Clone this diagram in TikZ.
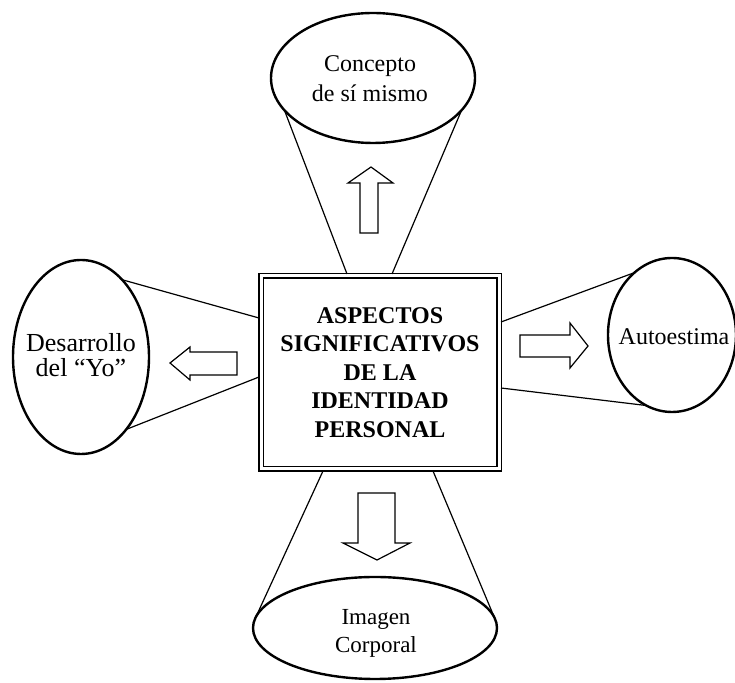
\documentclass[tikz,border=0pt]{standalone}
\usepackage{fontspec}
\setmainfont{Liberation Serif}
\usetikzlibrary{shapes.geometric}
\begin{document}
\begin{tikzpicture}[x=0.5pt, y=-0.5pt,
		oval/.style={draw, ellipse, line width=1.2pt, inner sep=0pt, outer sep=0pt},
		ovaltext/.style={align=center, inner sep=0pt},
		cone/.style={line width=0.6pt},
		hollow/.style={line width=0.6pt, line join=miter}]
	\useasboundingbox (0,0) rectangle (735,683);
	
	\node[draw, double, double distance=1.5pt, line width=0.8pt, minimum width=119pt, minimum height=96.5pt, align=center, font=\bfseries\fontsize{12}{14.25}\selectfont] (box) at (380,372.5) {ASPECTOS\\SIGNIFICATIVOS\\DE LA\\IDENTIDAD\\PERSONAL};
	
	\node[oval, minimum width=102pt, minimum height=65pt] (concepto) at (373,78) {};
	\node[oval, minimum width=68pt, minimum height=97pt] (yo) at (81,357) {};
	\node[oval, minimum width=64pt, minimum height=77pt] (auto) at (672,335) {};
	\node[oval, minimum width=122pt, minimum height=51pt] (imagen) at (375,628) {};
	
	\node[ovaltext, font=\fontsize{12}{15}\selectfont] (conceptoText) at (370,79) {Concepto\\de sí mismo};
	\node[ovaltext, font=\fontsize{13}{12.5}\selectfont] (yoText) at (81,355) {Desarrollo\\del ``Yo''};
	\node[ovaltext, font=\fontsize{12}{14}\selectfont] (autoText) at (674,337) {Autoestima};
	\node[ovaltext, font=\fontsize{11.5}{14}\selectfont] (imagenText) at (376,633) {Imagen\\Corporal};
	
	\coordinate (boxN1) at (347,274);
	\coordinate (boxN2) at (392,274);
	\coordinate (boxS1) at (323,471);
	\coordinate (boxS2) at (433,471);
	\coordinate (boxW1) at (259,318);
	\coordinate (boxW2) at (259,377);
	\coordinate (boxE1) at (501,322);
	\coordinate (boxE2) at (501,388);
	
	\draw[cone] (boxN1) -- (concepto.200);
	\draw[cone] (boxN2) -- (concepto.340);
	\draw[cone] (boxW1) -- (yo.62);
	\draw[cone] (boxW2) -- (yo.-58);
	\draw[cone] (boxE1) -- (auto.121);
	\draw[cone] (boxE2) -- (auto.250);
	\draw[cone] (boxS1) -- (imagen.176);
	\draw[cone] (boxS2) -- (imagen.5);
	
	% hollow arrows
	\draw[hollow] (360,233) -- (360,183) -- (348,183) -- (371,167) -- (393,183) -- (378,183) -- (378,233) -- cycle;
	\draw[hollow] (358,493) -- (358,543) -- (343,543) -- (377,560) -- (410,543) -- (395,543) -- (395,493) -- cycle;
	\draw[hollow] (237,352) -- (190,352) -- (190,347) -- (170,363) -- (190,380) -- (190,375) -- (237,375) -- cycle;
	\draw[hollow] (520,335) -- (570,335) -- (570,323) -- (588,346) -- (570,368) -- (570,357) -- (520,357) -- cycle;
	
\end{tikzpicture}
\end{document}
